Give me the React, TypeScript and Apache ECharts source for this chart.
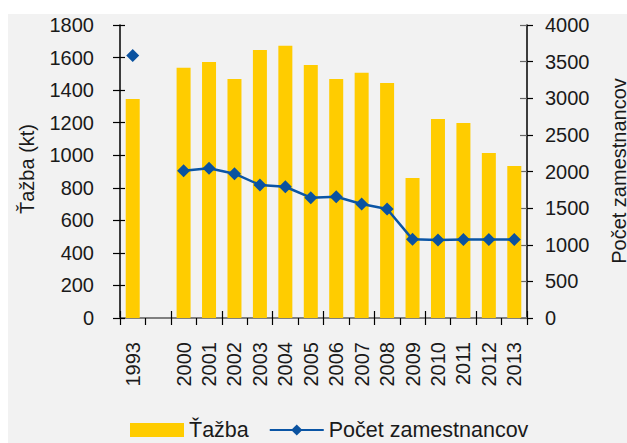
import React, { useEffect, useRef } from "react";
import * as echarts from "echarts";

const categories = ["1993", "", "2000", "2001", "2002", "2003", "2004", "2005", "2006", "2007", "2008", "2009", "2010", "2011", "2012", "2013"];
const tazba = [1345, null, 1537, 1573, 1468, 1646, 1672, 1554, 1468, 1506, 1444, 860, 1222, 1198, 1013, 934];
const zamestnanci = [3585, null, 2010, 2045, 1970, 1816, 1792, 1642, 1655, 1556, 1488, 1074, 1066, 1072, 1070, 1072];
const leftTicks = { min: 0, max: 1800, interval: 200 };
const rightTicks = { min: 0, max: 4000, interval: 500 };

const FONT = "'Liberation Sans', Arial, Helvetica, sans-serif";
const TXT = "#1a1a1a";
const FS = 20;
const plain = (v: number) => String(v);

export default function App() {
  const ref = useRef<HTMLDivElement>(null);
  useEffect(() => {
    document.body.style.margin = "0";
    const chart = echarts.init(ref.current!, null, { renderer: "svg" });
    const catBase = {
      type: "category" as const,
      data: categories,
      gridIndex: 0,
    };
    chart.setOption({
      animation: false,
      backgroundColor: "#ffffff",
      textStyle: { fontFamily: FONT },
      grid: { left: 120, right: 100, top: 25, bottom: 125, containLabel: false },
      graphic: [
        { type: "rect", z: -100, shape: { x: 8, y: 14, width: 619, height: 429 }, style: { fill: "#f2f2f2" } },
        {
          type: "text", x: 27, y: 169, rotation: Math.PI / 2,
          style: { text: "Ťažba (kt)", fontSize: FS, fontFamily: FONT, fill: TXT, align: "center", verticalAlign: "middle" },
        },
        {
          type: "text", x: 619, y: 171, rotation: Math.PI / 2,
          style: { text: "Počet zamestnancov", fontSize: FS, fontFamily: FONT, fill: TXT, align: "center", verticalAlign: "middle" },
        },
      ],
      legend: {
        left: 125, top: 414, itemWidth: 54, itemGap: 20, itemHeight: 14,
        textStyle: { fontSize: 21.5, color: TXT, fontFamily: FONT },
        data: [
          { name: "Ťažba", icon: "rect" },
          { name: "Počet zamestnancov" },
        ],
      },
      xAxis: [
        {
          ...catBase, position: "bottom",
          axisLine: { show: true, lineStyle: { color: "#000", width: 1.5 } },
          axisTick: { show: true, inside: false, length: 7, lineStyle: { color: "#000", width: 1.2 } },
          axisLabel: { rotate: 90, margin: 24, fontSize: FS, color: TXT, fontFamily: FONT, interval: 0 },
        },
        {
          ...catBase, position: "bottom",
          axisLine: { show: false },
          axisTick: { show: true, inside: true, length: 7, lineStyle: { color: "#000", width: 1.2 } },
          axisLabel: { show: false },
        },
        {
          ...catBase, position: "top",
          axisLine: { show: true, lineStyle: { color: "#808080", width: 2 } },
          axisTick: { show: false },
          axisLabel: { show: false },
        },
      ],
      yAxis: [
        {
          type: "value", position: "left", ...leftTicks,
          axisLine: { show: true, lineStyle: { color: "#000", width: 1.5 } },
          axisTick: { show: true, inside: false, length: 7, lineStyle: { color: "#000", width: 1.2 } },
          axisLabel: { margin: 26, fontSize: FS, color: TXT, fontFamily: FONT, formatter: plain },
          splitLine: { show: false },
        },
        {
          type: "value", position: "right", ...rightTicks,
          axisLine: { show: true, lineStyle: { color: "#000", width: 1.5 } },
          axisTick: { show: true, inside: false, length: 6, lineStyle: { color: "#000", width: 1.2 } },
          axisLabel: { margin: 18, fontSize: FS, color: TXT, fontFamily: FONT, formatter: plain },
          splitLine: { show: false },
        },
        {
          type: "value", position: "left", ...leftTicks,
          axisLine: { show: false },
          axisTick: { show: true, inside: true, length: 5, lineStyle: { color: "#000", width: 1.2 } },
          axisLabel: { show: false },
          splitLine: { show: false },
        },
        {
          type: "value", position: "right", ...rightTicks,
          axisLine: { show: false },
          axisTick: { show: true, inside: true, length: 7, lineStyle: { color: "#666", width: 1.2 } },
          axisLabel: { show: false },
          splitLine: { show: false },
        },
      ],
      series: [
        {
          name: "Ťažba", type: "bar", xAxisIndex: 0, yAxisIndex: 0,
          data: tazba, barWidth: 14,
          itemStyle: { color: "#ffcc00" },
        },
        {
          name: "Počet zamestnancov", type: "line", xAxisIndex: 0, yAxisIndex: 1,
          data: zamestnanci, connectNulls: false,
          symbol: "diamond", symbolSize: 13,
          itemStyle: { color: "#0a52a0" },
          lineStyle: { color: "#0a55a5", width: 2.5 },
        },
      ],
    });
    return () => chart.dispose();
  }, []);
  return <div ref={ref} style={{ width: 627, height: 443 }} />;
}
